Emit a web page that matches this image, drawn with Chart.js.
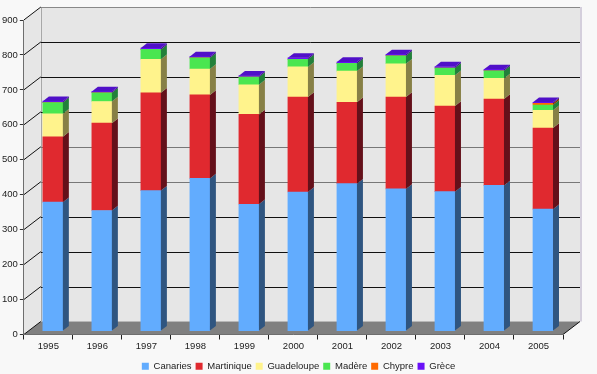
<!DOCTYPE html>
<html>
<head>
<meta charset="utf-8">
<script src="https://cdn.jsdelivr.net/npm/chart.js@4.4.1/dist/chart.umd.min.js"></script>
<style>
    html, body { margin: 0; padding: 0; background: #f8f8f8; }
    #wrap { width: 597px; height: 374px; }
</style>
</head>
<body>
<div id="wrap"><canvas id="touristChart" width="597" height="374"></canvas></div>
<script>
// Data
const years = ['1995', '1996', '1997', '1998', '1999', '2000', '2001', '2002', '2003', '2004', '2005'];
const seriesNames = ['Canaries', 'Martinique', 'Guadeloupe', 'Madère', 'Chypre', 'Grèce'];
const canaries   = [369, 345, 402, 437, 363, 398, 422, 407, 399, 417, 349];
const martinique = [187, 250, 280, 239, 257, 272, 233, 263, 245, 247, 232];
const guadeloupe = [66, 62, 96, 74, 85, 86, 89, 95, 88, 59, 51];
const madere     = [32, 25, 28, 32, 22, 22, 22, 23, 21, 22, 15];
const chypre     = [0, 0, 0, 0, 0, 0, 0, 0, 0, 0, 5];
const grece      = [4, 4, 4, 4, 4, 4, 4, 4, 4, 4, 3];
const yMin = 0, yMax = 900, yStep = 100;

// Colours: front, side and top faces
const frontColors = ['#62acfe', '#e0292f', '#fff38c', '#4ae650', '#ff6a00', '#6a10f8'];
const sideColors  = ['#2f5580', '#64101a', '#878046', '#22803a', '#803500', '#3c0c90'];
const topColors   = ['#4a88cc', '#b02026', '#ccc270', '#3bb840', '#cc5500', '#5010c8'];

// 3D look
const wallDepth = { dx: 17, dy: -13 };
const barShift = { dx: 4.5, dy: -3.4 };
const barDepth = { dx: 6, dy: -4.7 };

function poly(ctx, pts) {
    ctx.beginPath();
    ctx.moveTo(pts[0][0], pts[0][1]);
    for (let k = 1; k < pts.length; k++) ctx.lineTo(pts[k][0], pts[k][1]);
    ctx.closePath();
    ctx.fill();
}

function line(ctx, x1, y1, x2, y2) {
    ctx.beginPath();
    ctx.moveTo(x1, y1);
    ctx.lineTo(x2, y2);
    ctx.stroke();
}

const box3d = {
    id: 'box3d',
    beforeDraw(chart) {
        const ctx = chart.ctx;
        const a = chart.chartArea;
        const y = chart.scales.y;
        const dx = wallDepth.dx, dy = wallDepth.dy;
        const L = a.left, R = a.right, T = a.top, B = a.bottom;
        ctx.save();
        // walls
        ctx.fillStyle = '#e6e6e6';
        poly(ctx, [[L, T], [L + dx, T + dy], [L + dx, B + dy], [L, B]]);
        ctx.fillRect(L + dx, T + dy, R - L, B - T);
        // floor
        ctx.fillStyle = '#808080';
        poly(ctx, [[L, B], [R, B], [R + dx, B + dy], [L + dx, B + dy]]);
        // wall edges
        ctx.lineWidth = 1;
        ctx.strokeStyle = '#a8a8a8';
        line(ctx, Math.round(L + dx) + 0.5, T + dy, Math.round(L + dx) + 0.5, B + dy);
        ctx.strokeStyle = '#d4cfdc';
        ctx.lineWidth = 2;
        line(ctx, R + dx + 1, T + dy, R + dx + 1, B + dy);
        ctx.lineWidth = 1;
        // gridlines on back wall + diagonal links to the front axis
        y.ticks.forEach(t => {
            const py = y.getPixelForValue(t.value);
            const by = Math.round(py + dy) + 0.5;
            if (t.value > yMin) {
                ctx.strokeStyle = t.value === yMax ? '#888' : (t.value === 400 || t.value === 500 ? '#777' : '#111');
                line(ctx, L + dx, by, R + dx, by);
            }
            ctx.strokeStyle = '#111';
            line(ctx, L, py, L + dx, py + dy);
        });
        // right floor edge
        ctx.strokeStyle = '#111';
        line(ctx, R, B, R + dx, B + dy);
        ctx.restore();
    },
    beforeDatasetsDraw(chart) {
        chart.ctx.save();
        chart.ctx.translate(barShift.dx, barShift.dy);
    },
    afterDatasetsDraw(chart) {
        const ctx = chart.ctx;
        const bd = barDepth;
        for (let j = 0; j < chart.data.labels.length; j++) {
            let top = null;
            chart.data.datasets.forEach((ds, i) => {
                const el = chart.getDatasetMeta(i).data[j];
                if (!el || !ds.data[j]) return;
                const p = el.getProps(['x', 'y', 'base', 'width'], true);
                const x1 = p.x - p.width / 2, x2 = p.x + p.width / 2;
                ctx.fillStyle = sideColors[i];
                poly(ctx, [[x2, p.y], [x2 + bd.dx, p.y + bd.dy], [x2 + bd.dx, p.base + bd.dy], [x2, p.base]]);
                top = { i, x1, x2, y: p.y };
            });
            if (top) {
                ctx.fillStyle = topColors[top.i];
                poly(ctx, [[top.x1, top.y], [top.x1 + bd.dx, top.y + bd.dy], [top.x2 + bd.dx, top.y + bd.dy], [top.x2, top.y]]);
            }
        }
        ctx.restore();
    }
};

Chart.defaults.font.family = "'Liberation Sans', Arial, sans-serif";
Chart.defaults.font.size = 9.5;
Chart.defaults.color = '#222';

const seriesData = [canaries, martinique, guadeloupe, madere, chypre, grece];

new Chart(document.getElementById('touristChart').getContext('2d'), {
    type: 'bar',
    data: {
        labels: years,
        datasets: seriesNames.map((name, i) => ({
            label: name,
            data: seriesData[i],
            backgroundColor: frontColors[i],
            borderWidth: 0,
            barThickness: 20
        }))
    },
    options: {
        responsive: false,
        animation: false,
        devicePixelRatio: 1,
        events: [],
        layout: { padding: { top: 20, right: 0, left: 0, bottom: -7 } },
        plugins: {
            tooltip: { enabled: false },
            legend: {
                position: 'bottom',
                labels: {
                    boxWidth: 7,
                    boxHeight: 7,
                    padding: 4,
                    color: '#222'
                }
            }
        },
        scales: {
            x: {
                stacked: true,
                offset: true,
                grid: { offset: true, drawOnChartArea: false, tickLength: 5, color: '#222' },
                border: { color: '#6e6e6e' },
                ticks: { padding: 1, color: '#222' },
                afterFit(scale) { scale.height = 23; }
            },
            y: {
                stacked: true,
                min: yMin,
                max: yMax,
                grid: { drawOnChartArea: false, tickLength: 4, color: '#333' },
                border: { color: '#6e6e6e' },
                ticks: { stepSize: yStep, padding: 2, color: '#222' }
            },
            // empty right axis: keeps room for the depth of the box
            yRight: {
                position: 'right',
                grid: { display: false },
                border: { display: false },
                ticks: { display: false },
                afterFit(scale) { scale.width = 34; }
            }
        }
    },
    plugins: [box3d]
});
</script>
</body>
</html>
